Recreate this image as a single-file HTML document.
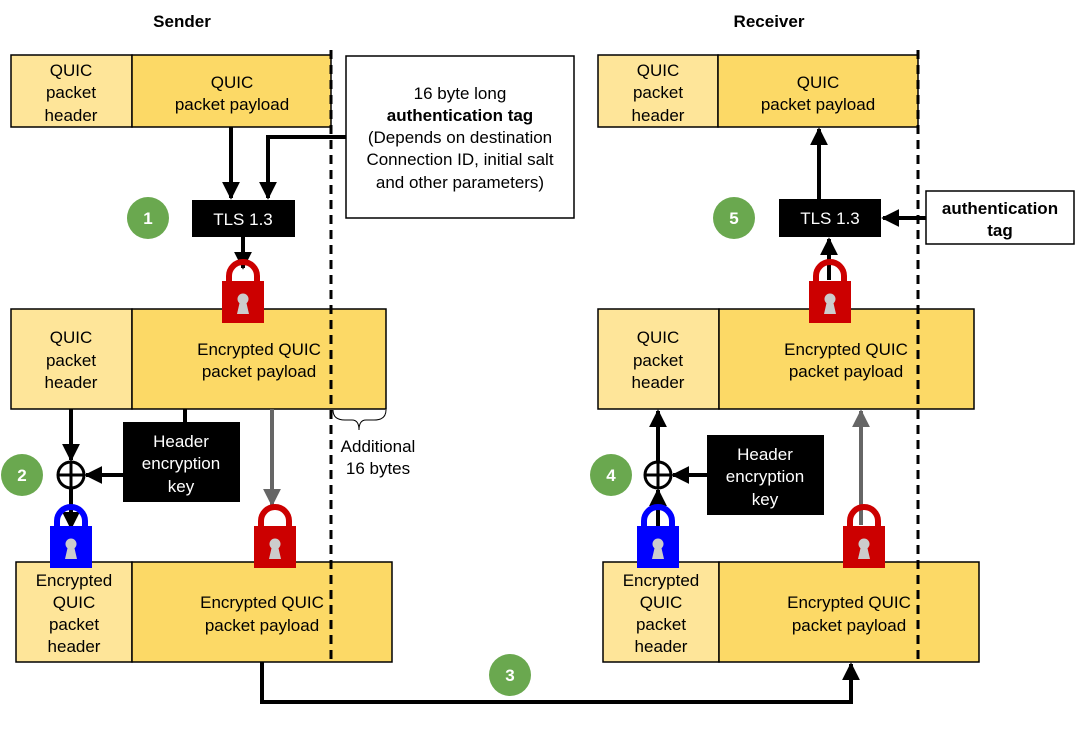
<!DOCTYPE html>
<html><head><meta charset="utf-8"><style>
body{margin:0;background:#fff}
svg text{font-family:"Liberation Sans",sans-serif;font-size:17px;fill:#000}
</style></head><body>
<svg width="1092" height="726" viewBox="0 0 1092 726" xmlns="http://www.w3.org/2000/svg">
<defs>
<marker id="ab" viewBox="0 0 10 10" refX="9" refY="5" markerWidth="4.5" markerHeight="4.5" orient="auto"><path d="M0,0L10,5L0,10z" fill="#000"/></marker>
<marker id="ag" viewBox="0 0 10 10" refX="9" refY="5" markerWidth="4.5" markerHeight="4.5" orient="auto"><path d="M0,0L10,5L0,10z" fill="#666"/></marker>
<g id="lock">
<path d="M-14,0 L-14,-6 A14,14 0 0 1 14,-6 L14,0" fill="none" stroke="currentColor" stroke-width="6"/>
<rect x="-21" y="-1" width="42" height="42" fill="currentColor"/>
<circle cx="0" cy="17" r="5.5" fill="#ccc"/>
<path d="M-3,19 L-6,32 L6,32 L3,19z" fill="#ccc"/>
</g>
</defs>

<text x="182" y="27" text-anchor="middle" font-weight="bold">Sender</text>
<text x="769" y="27" text-anchor="middle" font-weight="bold">Receiver</text>

<g stroke="#000" stroke-width="1.5">
<!-- sender boxes -->
<rect x="11" y="55" width="121" height="72" fill="#fee599"/>
<rect x="132" y="55" width="199" height="72" fill="#fcd966"/>
<rect x="11" y="309" width="121" height="100" fill="#fee599"/>
<rect x="132" y="309" width="254" height="100" fill="#fcd966"/>
<rect x="16" y="562" width="116" height="100" fill="#fee599"/>
<rect x="132" y="562" width="260" height="100" fill="#fcd966"/>
<rect x="346" y="56" width="228" height="162" fill="#fff"/>
<!-- receiver boxes -->
<rect x="598" y="55" width="120" height="72" fill="#fee599"/>
<rect x="718" y="55" width="200" height="72" fill="#fcd966"/>
<rect x="598" y="309" width="121" height="100" fill="#fee599"/>
<rect x="719" y="309" width="255" height="100" fill="#fcd966"/>
<rect x="603" y="562" width="116" height="100" fill="#fee599"/>
<rect x="719" y="562" width="260" height="100" fill="#fcd966"/>
<rect x="926" y="191" width="148" height="53" fill="#fff"/>
</g>

<!-- dashed lines -->
<line x1="331" y1="50" x2="331" y2="662" stroke="#000" stroke-width="3" stroke-dasharray="9,6"/>
<line x1="918" y1="50" x2="918" y2="662" stroke="#000" stroke-width="3" stroke-dasharray="9,6"/>

<!-- black boxes -->
<rect x="192" y="200" width="103" height="37" fill="#000"/>
<text x="243" y="225" text-anchor="middle" style="fill:#fff">TLS 1.3</text>
<rect x="779" y="199" width="102" height="38" fill="#000"/>
<text x="830" y="224" text-anchor="middle" style="fill:#fff">TLS 1.3</text>
<rect x="123" y="422" width="117" height="80" fill="#000"/>
<text text-anchor="middle" style="fill:#fff"><tspan x="181" y="447">Header</tspan><tspan x="181" y="469">encryption</tspan><tspan x="181" y="492">key</tspan></text>
<rect x="707" y="435" width="117" height="80" fill="#000"/>
<text text-anchor="middle" style="fill:#fff"><tspan x="765" y="460">Header</tspan><tspan x="765" y="482">encryption</tspan><tspan x="765" y="505">key</tspan></text>

<!-- connectors -->
<g fill="none" stroke="#000" stroke-width="4">
<line x1="231" y1="127" x2="231" y2="198" marker-end="url(#ab)"/>
<path d="M346,137 H268 V198" marker-end="url(#ab)"/>
<line x1="243" y1="237" x2="243" y2="268" marker-end="url(#ab)"/>
<line x1="71" y1="409" x2="71" y2="460" marker-end="url(#ab)"/>
<line x1="185" y1="409" x2="185" y2="422"/>
<line x1="123" y1="475" x2="86" y2="475" marker-end="url(#ab)"/>
<line x1="71" y1="488" x2="71" y2="528" marker-end="url(#ab)"/>
<path d="M262,662 V702 H851 V664" marker-end="url(#ab)"/>
<line x1="829" y1="280" x2="829" y2="239" marker-end="url(#ab)"/>
<line x1="819" y1="199" x2="819" y2="129" marker-end="url(#ab)"/>
<line x1="926" y1="218" x2="883" y2="218" marker-end="url(#ab)"/>
<line x1="658" y1="527" x2="658" y2="490" marker-end="url(#ab)"/>
<line x1="658" y1="462" x2="658" y2="411" marker-end="url(#ab)"/>
<line x1="707" y1="475" x2="673" y2="475" marker-end="url(#ab)"/>
</g>
<g fill="none" stroke="#666" stroke-width="4">
<line x1="272" y1="409" x2="272" y2="505" marker-end="url(#ag)"/>
<line x1="861" y1="525" x2="861" y2="411" marker-end="url(#ag)"/>
</g>

<!-- xor -->
<g fill="none" stroke="#000" stroke-width="3">
<circle cx="71" cy="475" r="13"/><line x1="58" y1="475" x2="84" y2="475"/><line x1="71" y1="462" x2="71" y2="488"/>
<circle cx="658" cy="475" r="13"/><line x1="645" y1="475" x2="671" y2="475"/><line x1="658" y1="462" x2="658" y2="488"/>
</g>

<!-- locks -->
<use href="#lock" x="243" y="282" style="color:#cc0000"/>
<use href="#lock" x="71" y="527" style="color:#0000ff"/>
<use href="#lock" x="275" y="527" style="color:#cc0000"/>
<use href="#lock" x="830" y="282" style="color:#cc0000"/>
<use href="#lock" x="658" y="527" style="color:#0000ff"/>
<use href="#lock" x="864" y="527" style="color:#cc0000"/>

<!-- brace -->
<path d="M333,410 Q333,420 345,420 L352,420 Q359,420 359,430 Q359,420 366,420 L374,420 Q386,420 386,410" fill="none" stroke="#000" stroke-width="1"/>
<text text-anchor="middle"><tspan x="378" y="452">Additional</tspan><tspan x="378" y="474">16 bytes</tspan></text>

<!-- green circles -->
<g fill="#6aa84f">
<circle cx="148" cy="218" r="21"/><circle cx="22" cy="475" r="21"/><circle cx="510" cy="675" r="21"/>
<circle cx="611" cy="475" r="21"/><circle cx="734" cy="218" r="21"/>
</g>
<g text-anchor="middle" font-weight="bold" style="font-size:17px">
<text x="148" y="224" style="fill:#fff">1</text><text x="22" y="481" style="fill:#fff">2</text>
<text x="510" y="681" style="fill:#fff">3</text><text x="611" y="481" style="fill:#fff">4</text>
<text x="734" y="224" style="fill:#fff">5</text>
</g>

<!-- box texts -->
<g text-anchor="middle">
<text><tspan x="71" y="76">QUIC</tspan><tspan x="71" y="98">packet</tspan><tspan x="71" y="121">header</tspan></text>
<text><tspan x="232" y="88">QUIC</tspan><tspan x="232" y="110">packet payload</tspan></text>
<text><tspan x="71" y="343">QUIC</tspan><tspan x="71" y="366">packet</tspan><tspan x="71" y="388">header</tspan></text>
<text><tspan x="259" y="355">Encrypted QUIC</tspan><tspan x="259" y="377">packet payload</tspan></text>
<text><tspan x="74" y="586">Encrypted</tspan><tspan x="74" y="608">QUIC</tspan><tspan x="74" y="630">packet</tspan><tspan x="74" y="652">header</tspan></text>
<text><tspan x="262" y="608">Encrypted QUIC</tspan><tspan x="262" y="631">packet payload</tspan></text>
<text><tspan x="460" y="99">16 byte long</tspan><tspan x="460" y="121" font-weight="bold">authentication tag</tspan><tspan x="460" y="143">(Depends on destination</tspan><tspan x="460" y="165">Connection ID, initial salt</tspan><tspan x="460" y="188">and other parameters)</tspan></text>

<text><tspan x="658" y="76">QUIC</tspan><tspan x="658" y="98">packet</tspan><tspan x="658" y="121">header</tspan></text>
<text><tspan x="818" y="88">QUIC</tspan><tspan x="818" y="110">packet payload</tspan></text>
<text><tspan x="658" y="343">QUIC</tspan><tspan x="658" y="366">packet</tspan><tspan x="658" y="388">header</tspan></text>
<text><tspan x="846" y="355">Encrypted QUIC</tspan><tspan x="846" y="377">packet payload</tspan></text>
<text><tspan x="661" y="586">Encrypted</tspan><tspan x="661" y="608">QUIC</tspan><tspan x="661" y="630">packet</tspan><tspan x="661" y="652">header</tspan></text>
<text><tspan x="849" y="608">Encrypted QUIC</tspan><tspan x="849" y="631">packet payload</tspan></text>
<text font-weight="bold"><tspan x="1000" y="214">authentication</tspan><tspan x="1000" y="236">tag</tspan></text>
</g>
</svg>
</body></html>
